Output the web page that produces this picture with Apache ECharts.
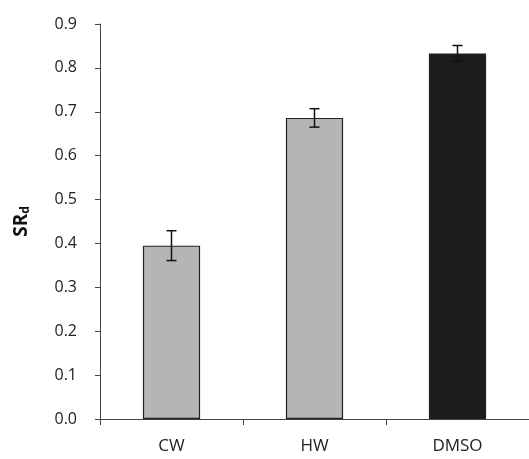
<!DOCTYPE html>
<html><head><meta charset="utf-8">
<script src="https://cdn.jsdelivr.net/npm/echarts@6/dist/echarts.min.js"></script>
<style>html,body{margin:0;padding:0;background:#fff}#c{width:529px;height:459px}</style>
</head><body><div id="c"></div>
<script>
var categories = ['CW', 'HW', 'DMSO'];
var values = [0.395, 0.686, 0.833];
var errors = [0.034, 0.021, 0.018];
var barColors = ['#b5b5b5', '#b5b5b5', '#1c1c1c'];
var yTicks = [0, 0.1, 0.2, 0.3, 0.4, 0.5, 0.6, 0.7, 0.8, 0.9];

var chart = echarts.init(document.getElementById('c'));
var font = '"Open Sans", "DejaVu Sans", sans-serif';
chart.setOption({
  animation: false,
  grid: {left: 100, right: 0, top: 24, bottom: 40},
  xAxis: {
    type: 'category', data: categories,
    axisLine: {lineStyle: {color: '#444', width: 1}},
    axisTick: {show: true, length: 6, lineStyle: {color: '#444'}},
    axisLabel: {color: '#222', fontSize: 17, fontFamily: font, margin: 19}
  },
  yAxis: {
    type: 'value', min: 0, max: 0.9, interval: 0.1,
    splitLine: {show: false},
    axisLine: {show: true, lineStyle: {color: '#444', width: 1}},
    axisTick: {show: true, length: 5, lineStyle: {color: '#444'}},
    axisLabel: {color: '#222', fontSize: 16, fontFamily: font, margin: 23,
      formatter: function (v) { return v.toFixed(1); }},
    name: '{a|SR}{b|d}', nameLocation: 'middle', nameGap: 68, nameRotate: 90,
    nameTextStyle: {rich: {
      a: {fontSize: 19, fontWeight: 'bold', fontFamily: font, color: '#111'},
      b: {fontSize: 12, fontWeight: 'bold', fontFamily: font, color: '#111', padding: [9, 0, 0, 0]}
    }}
  },
  series: [{
    type: 'bar', barWidth: '40%',
    data: values.map(function (v, i) {
      return {value: v, itemStyle: {color: barColors[i], borderColor: '#222', borderWidth: 1.2}};
    })
  }, {
    type: 'custom',
    data: values.map(function (v, i) { return [i, v - errors[i], v + errors[i]]; }),
    renderItem: function (params, api) {
      var lo = api.coord([api.value(0), api.value(1)]);
      var hi = api.coord([api.value(0), api.value(2)]);
      var hw = 5;
      var st = {stroke: '#111', lineWidth: 1.5};
      return {type: 'group', children: [
        {type: 'line', shape: {x1: hi[0], y1: hi[1], x2: lo[0], y2: lo[1]}, style: st},
        {type: 'line', shape: {x1: hi[0] - hw, y1: hi[1], x2: hi[0] + hw, y2: hi[1]}, style: st},
        {type: 'line', shape: {x1: lo[0] - hw, y1: lo[1], x2: lo[0] + hw, y2: lo[1]}, style: st}
      ]};
    },
    z: 5
  }]
});
</script></body></html>
